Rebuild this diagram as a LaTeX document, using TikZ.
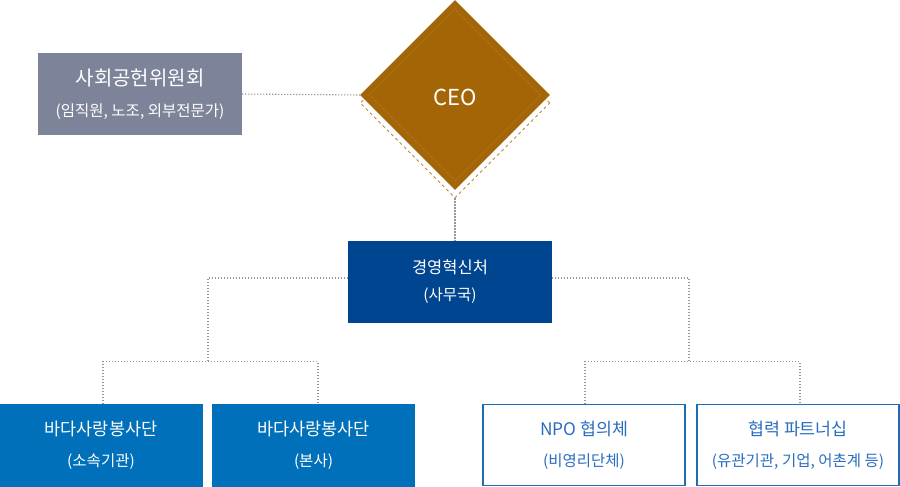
\documentclass[tikz,border=0pt]{standalone}
\usepackage{fontspec}
\setmainfont{Noto Sans CJK KR}
\usepackage{tikz}
\usetikzlibrary{shapes.geometric, positioning, calc}
\definecolor{comgray}{RGB}{125,131,153}
\definecolor{ceobrown}{RGB}{163,101,6}
\definecolor{ceodash}{RGB}{196,132,52}
\definecolor{ceoline}{RGB}{176,120,44}
\definecolor{hqblue}{RGB}{0,69,143}
\definecolor{unitblue}{RGB}{0,112,186}
\definecolor{partblue}{RGB}{28,109,181}
\definecolor{parttext}{RGB}{42,109,192}
\definecolor{linkgray}{RGB}{150,150,150}
\newcommand{\subline}{\fontsize{15.5pt}{15.5pt}\selectfont}
\tikzset{
  combox/.style={rectangle, fill=comgray, text=white,
    minimum width=204pt, minimum height=82pt, inner sep=0pt,
    align=center, font=\fontsize{20pt}{31pt}\selectfont},
  ceobox/.style={diamond, fill=ceobrown, text=white,
    minimum size=190pt, inner sep=0pt,
    font=\fontsize{22pt}{22pt}\selectfont},
  ceoshadow/.style={diamond, draw=ceodash, dashed, line width=0.9pt,
    minimum size=190pt, inner sep=0pt},
  ceoinner/.style={diamond, draw=ceoline, line width=0.4pt,
    minimum size=172pt, inner sep=0pt},
  hqbox/.style={rectangle, fill=hqblue, text=white,
    minimum width=204pt, minimum height=82pt, inner sep=0pt,
    align=center, font=\fontsize{16.5pt}{27pt}\selectfont},
  unitbox/.style={rectangle, fill=unitblue, text=white,
    minimum width=203pt, minimum height=83pt, inner sep=0pt,
    align=center, font=\fontsize{17.5pt}{31pt}\selectfont},
  partbox/.style={rectangle, draw=partblue, fill=white, text=parttext,
    line width=1.5pt, minimum width=202pt, minimum height=81pt, inner sep=0pt,
    align=center, font=\fontsize{17.3pt}{31pt}\selectfont},
  link/.style={color=linkgray, line width=1.1pt, dash pattern=on 1.1pt off 1.9pt}
}
\begin{document}
\begin{tikzpicture}[x=1pt, y=-1pt]
  \useasboundingbox (0,0) rectangle (900,487);
  % Committee
  \node[combox] (com) at (140,94) {사회공헌위원회\\{\subline (임직원, 노조, 외부전문가)}};
  % CEO
  \node[ceoshadow] (ceoshd) at (455,103) {};
  \node[ceobox] (ceo) at (455,95) {};
  \node[ceoinner] (ceoin) at (455,95) {};
  \node[text=white, font=\fontsize{22pt}{22pt}\selectfont] (ceotxt) at (455,97) {CEO};
  % Management innovation office
  \node[hqbox] (hq) at (450,282) {경영혁신처\\{\subline (사무국)}};
  % Units
  \node[unitbox] (vol1) at (101,445.5) {바다사랑봉사단\\{\subline (소속기관)}};
  \node[unitbox] (vol2) at (313.5,445.5) {바다사랑봉사단\\{\subline (본사)}};
  \node[partbox] (npo) at (584,445) {NPO 협의체\\{\subline (비영리단체)}};
  \node[partbox] (coop) at (798,445) {협력 파트너십\\{\subline (유관기관, 기업, 어촌계 등)}};
  % Junctions
  \coordinate (splitL) at (208,362);
  \coordinate (splitR) at (689,362);
  % Links
  \draw[link] (com.east) -- (ceo.west);
  \draw[link] (ceoshd.south) -- (ceoshd.south |- hq.north);
  \draw[link] ([yshift=4pt]hq.west) -| (splitL);
  \draw[link] ([yshift=4pt]hq.east) -| (splitR);
  \draw[link] ([xshift=2pt]vol1.north) -- ++(0,-42) -| ([xshift=4.5pt]vol2.north);
  \draw[link] ([xshift=1pt]npo.north) -- ++(0,-42) -| ([xshift=2pt]coop.north);
\end{tikzpicture}
\end{document}
